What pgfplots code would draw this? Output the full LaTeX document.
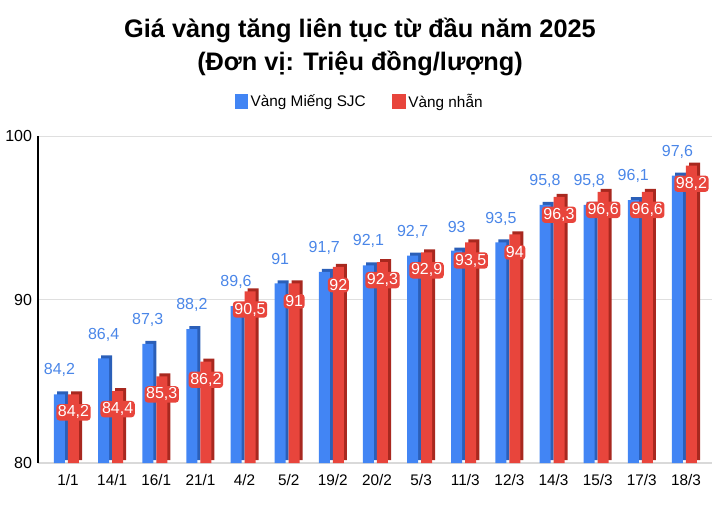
\documentclass[border=0pt]{standalone}
\usepackage{pgfplots}
\pgfplotsset{compat=1.18}
\usepackage{pgfplotstable}
\usepackage{fontspec}
\setmainfont{Liberation Sans}
\definecolor{sjc}{HTML}{4285F4}
\definecolor{sjcside}{HTML}{2B5FB8}
\definecolor{nhan}{HTML}{E8453C}
\definecolor{nhanside}{HTML}{A8281F}
\definecolor{lbl}{HTML}{4A86E8}
\pgfplotstableread{
x sjc nhan
0 84.2 84.2
1 86.4 84.4
2 87.3 85.3
3 88.2 86.2
4 89.6 90.5
5 91 91
6 91.7 92
7 92.1 92.3
8 92.7 92.9
9 93 93.5
10 93.5 94
11 95.8 96.3
12 95.8 96.6
13 96.1 96.6
14 97.6 98.2
}\data
\begin{document}
\begin{tikzpicture}
\useasboundingbox (0,0) rectangle (540pt,385.5pt);
\node[align=center,font=\bfseries\fontsize{19}{24.75}\selectfont] at (270pt,350pt) {Giá vàng tăng liên tục từ đầu năm 2025\\(Đơn vị: Triệu đồng/lượng)};
\begin{axis}[
  at={(28.5pt,38.25pt)}, anchor=south west,
  scale only axis, width=505.5pt, height=245pt,
  xmin=-0.68, xmax=14.59, ymin=80, ymax=100,
  ybar, bar width=8.25pt,
  ytick={80,90,100},
  xtick=data,
  xticklabels={1/1,14/1,16/1,21/1,4/2,5/2,19/2,20/2,5/3,11/3,12/3,14/3,15/3,17/3,18/3},
  major tick length=0pt,
  axis x line*=bottom, axis y line*=left,
  x axis line style={gray!30, line width=1.5pt, -},
  y axis line style={black, line width=0.9pt, -},
  ymajorgrids, major grid style={gray!25, line width=0.9pt},
  yticklabel style={font=\fontsize{12}{14}\selectfont, xshift=-1pt},
  xticklabel style={font=\fontsize{11.5}{13}\selectfont, yshift=-5pt},
  /pgf/number format/.cd, use comma, 1000 sep={}, assume math mode=true,
  /pgfplots/.cd,
  legend style={draw=none, fill=none, at={(0.4777,1.107)}, anchor=center,
    legend columns=2, font=\fontsize{11.5}{13}\selectfont,
    /tikz/every even column/.append style={column sep=18pt}},
  legend image code/.code={\fill[#1] (0pt,-5.5pt) rectangle (10pt,5.5pt);},
  clip=true,
]
\addplot[ybar, bar width=8.25pt, bar shift=-4.1pt, fill=sjcside, draw=none, yshift=2.25pt, forget plot] table[x=x,y=sjc]{\data};
\addplot[ybar, bar width=8.25pt, bar shift=-6.4pt, fill=sjc, draw=none,
  nodes near coords, every node near coord/.append style={lbl, anchor=center, yshift=18pt, inner sep=0pt, font=\fontsize{12}{14}\selectfont}] table[x=x,y=sjc]{\data};
\addlegendentry{Vàng Miếng SJC}
\addplot[ybar, bar width=8.25pt, bar shift=6.4pt, fill=nhanside, draw=none, yshift=2.25pt, forget plot] table[x=x,y=nhan]{\data};
\addplot[ybar, bar width=8.25pt, bar shift=4.1pt, fill=nhan, draw=none,
  nodes near coords,
  every node near coord/.append style={white, fill=nhan, rounded corners=2.5pt, anchor=center, yshift=-13.5pt, inner sep=1.2pt, font=\fontsize{12}{14}\selectfont}] table[x=x,y=nhan]{\data};
\addlegendentry{Vàng nhẫn}
\end{axis}
\end{tikzpicture}
\end{document}
